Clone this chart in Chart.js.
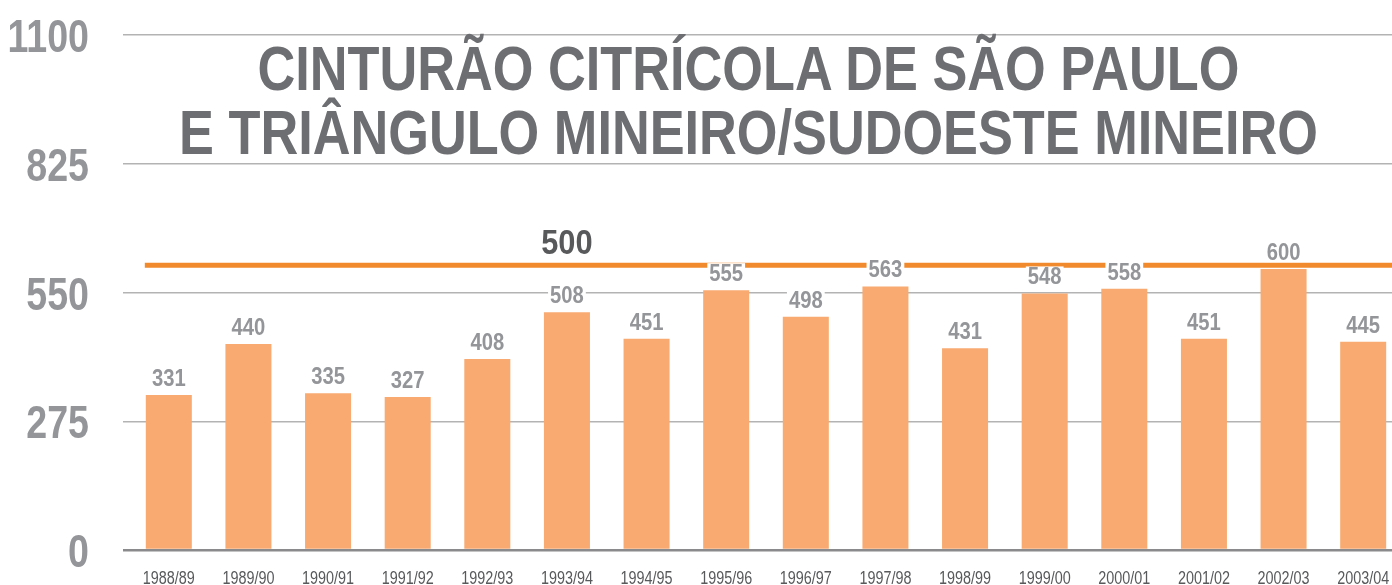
<!DOCTYPE html>
<html>
<head>
<meta charset="utf-8">
<script src="https://cdn.jsdelivr.net/npm/chart.js@4/dist/chart.umd.min.js"></script>
<style>
  html, body { margin: 0; padding: 0; background: #fff; overflow: hidden; }
  #wrap { position: relative; width: 1392px; height: 585px; overflow: hidden; }
  #chart { display: block; }
  #title {
    position: absolute; left: 0; top: 36px; width: 1497px;
    text-align: center; color: #6d6e71; white-space: nowrap;
    font-family: "Liberation Sans", Arial, sans-serif;
    font-weight: bold; font-size: 63px; line-height: 64px;
    transform: scaleX(0.83); transform-origin: 50% 0;
    pointer-events: none;
  }
</style>
</head>
<body>
<div id="wrap">
  <canvas id="chart" width="1403" height="585"></canvas>
  <div id="title">CINTURÃO CITRÍCOLA DE SÃO PAULO<br>E TRIÂNGULO MINEIRO/SUDOESTE MINEIRO</div>
</div>
<script>
// safra labels and box counts (millions)
const seasons = ['1988/89', '1989/90', '1990/91', '1991/92', '1992/93', '1993/94', '1994/95', '1995/96',
                 '1996/97', '1997/98', '1998/99', '1999/00', '2000/01', '2001/02', '2002/03', '2003/04'];
const production = [331, 440, 335, 327, 408, 508, 451, 555, 498, 563, 431, 548, 558, 451, 600, 445];
const yTicks = [0, 275, 550, 825, 1100];

// reference line: drawn position, text as printed
const refLineValue = 608;
const refLineText = '500';
const refLabelIndex = 5;

const sans = '"Liberation Sans", Arial, sans-serif';

// the source uses a condensed face, so squeeze text horizontally
function squeezed(ctx, txt, x, y, font, color, align, sx) {
  ctx.save();
  ctx.font = font;
  ctx.fillStyle = color;
  ctx.textAlign = align;
  ctx.textBaseline = 'alphabetic';
  ctx.translate(x, y);
  ctx.scale(sx, 1);
  ctx.fillText(txt, 0, 0);
  ctx.restore();
}

// orange line + its label, drawn under the bars
const refLine = {
  id: 'refLine',
  beforeDatasetsDraw(chart) {
    const ctx = chart.ctx;
    const y = chart.scales.y.getPixelForValue(refLineValue);
    const first = chart.getDatasetMeta(0).data[0];
    const x0 = first.x - first.width / 2 - 1;
    ctx.save();
    ctx.strokeStyle = '#f18a2d';
    ctx.lineWidth = 5;
    ctx.beginPath();
    ctx.moveTo(x0, y);
    ctx.lineTo(chart.width, y);
    ctx.stroke();
    ctx.restore();
    squeezed(ctx, refLineText, chart.scales.x.getPixelForValue(refLabelIndex), y - 11,
             'bold 35px ' + sans, '#58595b', 'center', 0.88);
  }
};

// axis labels and value labels
const labels = {
  id: 'labels',
  afterDatasetsDraw(chart) {
    const ctx = chart.ctx;
    const xs = chart.scales.x, ys = chart.scales.y;
    const area = chart.chartArea;

    ys.ticks.forEach(t => {
      squeezed(ctx, String(t.value), area.left - 40, ys.getPixelForValue(t.value) + 17,
               'bold 47px ' + sans, '#939598', 'right', 0.8);
    });

    seasons.forEach((s, i) => {
      squeezed(ctx, s, xs.getPixelForValue(i), 584, '18px ' + sans, '#58595b', 'center', 0.8);
    });

    const meta = chart.getDatasetMeta(0);
    ctx.font = 'bold 23px ' + sans;
    meta.data.forEach((bar, i) => {
      const txt = String(production[i]);
      const w = ctx.measureText(txt).width * 0.88;
      const base = bar.y - 9;
      ctx.fillStyle = '#fff';
      ctx.fillRect(bar.x - w / 2 - 2, base - 18, w + 4, 20);
      squeezed(ctx, txt, bar.x, base, 'bold 23px ' + sans, '#939598', 'center', 0.88);
    });
  }
};

new Chart(document.getElementById('chart'), {
  type: 'bar',
  data: {
    labels: seasons,
    datasets: [{
      data: production,
      backgroundColor: '#f8aa70',
      borderWidth: 0,
      categoryPercentage: 1,
      barPercentage: 0.578
    }]
  },
  options: {
    responsive: false,
    animation: false,
    layout: { padding: { top: 35, left: 0, right: 0, bottom: 0 } },
    plugins: { legend: { display: false }, tooltip: { enabled: false } },
    scales: {
      x: {
        grid: { display: false },
        border: { display: false },
        ticks: { display: false },
        afterFit(scale) { scale.height = 35; }
      },
      y: {
        min: 0,
        max: 1100,
        afterBuildTicks(scale) { scale.ticks = yTicks.map(v => ({ value: v })); },
        afterFit(scale) { scale.width = 129; },
        border: { display: false },
        grid: {
          drawTicks: true,
          tickLength: 6,
          color: ctx => ctx.tick && ctx.tick.value === 0 ? '#8a8a8c' : '#b3b3b3',
          tickColor: ctx => ctx.tick && ctx.tick.value === 0 ? '#8a8a8c' : '#b3b3b3',
          lineWidth: ctx => ctx.tick && ctx.tick.value === 0 ? 2.5 : 1.5
        },
        ticks: { display: false }
      }
    }
  },
  plugins: [refLine, labels]
});
</script>
</body>
</html>
